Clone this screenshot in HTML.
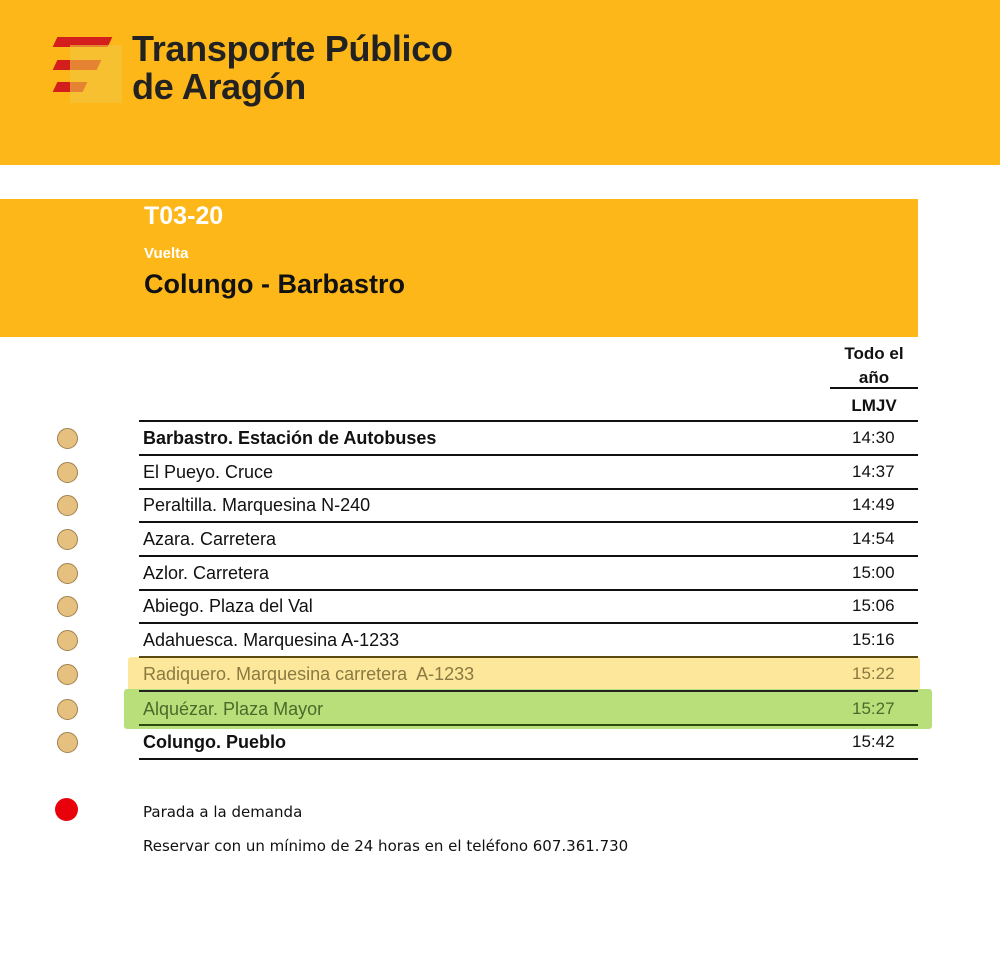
<!DOCTYPE html>
<html><head><meta charset="utf-8"><style>
body{margin:0;width:1000px;height:965px;background:#fff;position:relative;font-family:"Liberation Sans",Arial,sans-serif;overflow:hidden}
.a{position:absolute}
.hl{position:absolute;left:139px;width:779px;height:2px;background:#111}
.t{position:absolute;left:143px;font-size:18px;color:#111;line-height:20px}
.h{position:absolute;left:852px;font-size:17px;color:#111;line-height:20px}
.c{position:absolute;left:57px;width:19px;height:19px;border-radius:50%;background:#E6C07E;border:1px solid #a08050}
</style></head><body>
<div class="a" style="left:0;top:0;width:1000px;height:165px;background:#FDB719"></div>
<div class="a" style="left:55px;top:37px;width:55px;height:10px;background:#D41E1E;transform:skewX(-25deg)"></div>
<div class="a" style="left:55px;top:60px;width:44px;height:10px;background:#D41E1E;transform:skewX(-25deg)"></div>
<div class="a" style="left:55px;top:82px;width:30px;height:10px;background:#D41E1E;transform:skewX(-25deg)"></div>
<div class="a" style="left:70px;top:45px;width:52px;height:58px;background:#F2C640;opacity:.6"></div>
<div class="a" style="left:132px;top:30px;font-size:36px;font-weight:bold;color:#222;line-height:38px;letter-spacing:-0.3px">Transporte Público<br>de Aragón</div>
<div class="a" style="left:0;top:199px;width:918px;height:138px;background:#FDB719"></div>
<div class="a" style="left:144px;top:202px;font-size:25px;font-weight:bold;color:#fff">T03-20</div>
<div class="a" style="left:144px;top:245px;font-size:15px;font-weight:bold;color:#fff">Vuelta</div>
<div class="a" style="left:144px;top:269px;font-size:27px;font-weight:bold;color:#111">Colungo - Barbastro</div>
<div class="a" style="left:830px;top:342px;width:88px;text-align:center;font-size:17px;font-weight:bold;line-height:24px;color:#111">Todo el<br>año</div>
<div class="a" style="left:830px;top:387px;width:88px;height:2px;background:#111"></div>
<div class="a" style="left:830px;top:396px;width:88px;text-align:center;font-size:17px;font-weight:bold;color:#111">LMJV</div>
<div class="a" style="left:128px;top:657px;width:792px;height:34px;background:#FCE79A;border-radius:3px"></div>
<div class="a" style="left:124px;top:689px;width:808px;height:40px;background:#B8DF7A;border-radius:3px"></div>
<div class="hl" style="top:420px"></div><div class="hl" style="top:454px"></div><div class="hl" style="top:488px"></div><div class="hl" style="top:521px"></div><div class="hl" style="top:555px"></div><div class="hl" style="top:589px"></div><div class="hl" style="top:622px"></div><div class="hl" style="top:656px;background:#5a4a10"></div><div class="hl" style="top:690px;background:#222"></div><div class="hl" style="top:724px;background:#2b4a10"></div><div class="hl" style="top:758px"></div>
<div class="c" style="top:428px"></div><div class="t" style="top:428px;font-weight:bold">Barbastro. Estación de Autobuses</div><div class="h" style="top:428px">14:30</div>
<div class="c" style="top:462px"></div><div class="t" style="top:462px">El Pueyo. Cruce</div><div class="h" style="top:462px">14:37</div>
<div class="c" style="top:495px"></div><div class="t" style="top:495px">Peraltilla. Marquesina N-240</div><div class="h" style="top:495px">14:49</div>
<div class="c" style="top:529px"></div><div class="t" style="top:529px">Azara. Carretera</div><div class="h" style="top:529px">14:54</div>
<div class="c" style="top:563px"></div><div class="t" style="top:563px">Azlor. Carretera</div><div class="h" style="top:563px">15:00</div>
<div class="c" style="top:596px"></div><div class="t" style="top:596px">Abiego. Plaza del Val</div><div class="h" style="top:596px">15:06</div>
<div class="c" style="top:630px"></div><div class="t" style="top:630px">Adahuesca. Marquesina A-1233</div><div class="h" style="top:630px">15:16</div>
<div class="c" style="top:664px"></div><div class="t" style="top:664px;color:#8a7a40">Radiquero. Marquesina carretera&nbsp; A-1233</div><div class="h" style="top:664px;color:#8a7a40">15:22</div>
<div class="c" style="top:699px"></div><div class="t" style="top:699px;color:#4a6a2a">Alquézar. Plaza Mayor</div><div class="h" style="top:699px;color:#4a6a2a">15:27</div>
<div class="c" style="top:732px"></div><div class="t" style="top:732px;font-weight:bold">Colungo. Pueblo</div><div class="h" style="top:732px">15:42</div>
<div class="a" style="left:55px;top:798px;width:23px;height:23px;border-radius:50%;background:#E8000B"></div>
<div class="a" style="left:143px;top:803px;font-size:15px;color:#111;font-family:'DejaVu Sans',sans-serif">Parada a la demanda</div>
<div class="a" style="left:143px;top:837px;font-size:15px;color:#111;font-family:'DejaVu Sans',sans-serif;letter-spacing:0px">Reservar con un mínimo de 24 horas en el teléfono 607.361.730</div>
</body></html>
